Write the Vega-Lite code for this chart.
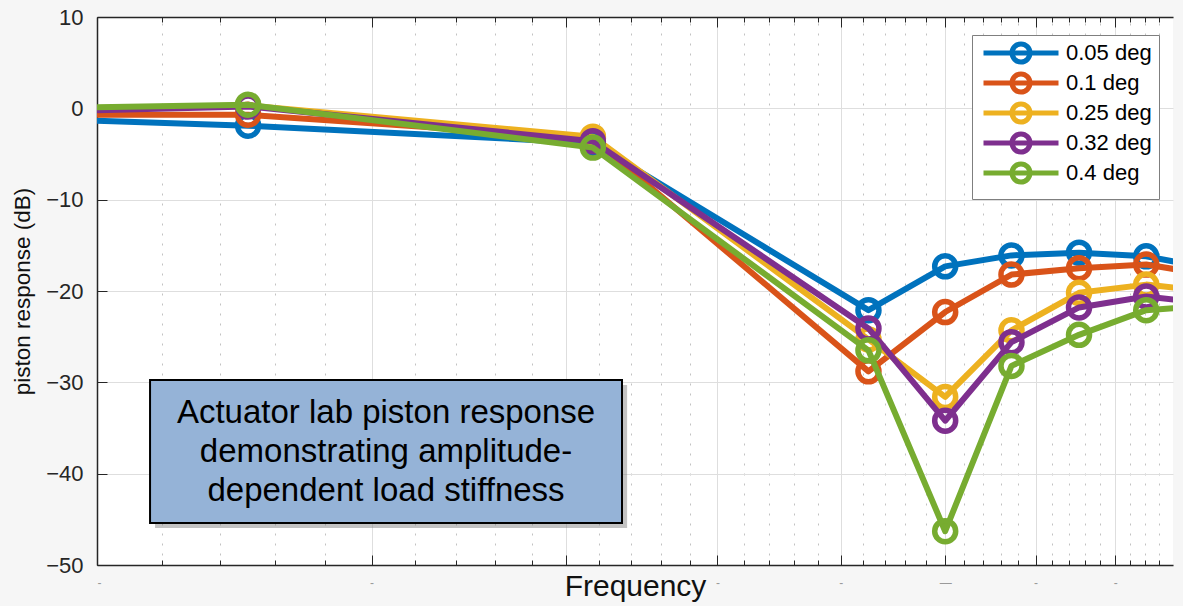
{
  "$schema": "https://vega.github.io/schema/vega-lite/v6.json",
  "width": 1076,
  "height": 548,
  "autosize": {"type": "none"},
  "padding": {"left": 97, "top": 17, "right": 10, "bottom": 41},
  "background": "#f6f6f6",
  "view": {"fill": "white", "stroke": null},
  "config": {"font": "Liberation Sans"},
  "datasets": {
    "resp": [
      {"s": "0.05 deg", "f": 1.8, "db": -1.1},
      {"s": "0.05 deg", "f": 2.5, "db": -1.9},
      {"s": "0.05 deg", "f": 4.16, "db": -3.8},
      {"s": "0.05 deg", "f": 6.25, "db": -22.1},
      {"s": "0.05 deg", "f": 7.0, "db": -17.3},
      {"s": "0.05 deg", "f": 7.72, "db": -16.1},
      {"s": "0.05 deg", "f": 8.53, "db": -15.8},
      {"s": "0.05 deg", "f": 9.42, "db": -16.2},
      {"s": "0.05 deg", "f": 10.4, "db": -17.6},
      {"s": "0.1 deg", "f": 1.8, "db": -0.7},
      {"s": "0.1 deg", "f": 2.5, "db": -0.7},
      {"s": "0.1 deg", "f": 4.16, "db": -3.3},
      {"s": "0.1 deg", "f": 6.25, "db": -28.8},
      {"s": "0.1 deg", "f": 7.0, "db": -22.3},
      {"s": "0.1 deg", "f": 7.72, "db": -18.2},
      {"s": "0.1 deg", "f": 8.53, "db": -17.5},
      {"s": "0.1 deg", "f": 9.42, "db": -17.1},
      {"s": "0.1 deg", "f": 10.4, "db": -18.3},
      {"s": "0.25 deg", "f": 1.8, "db": -0.1},
      {"s": "0.25 deg", "f": 2.5, "db": 0.3},
      {"s": "0.25 deg", "f": 4.16, "db": -3.1},
      {"s": "0.25 deg", "f": 6.25, "db": -25.3},
      {"s": "0.25 deg", "f": 7.0, "db": -31.6},
      {"s": "0.25 deg", "f": 7.72, "db": -24.3},
      {"s": "0.25 deg", "f": 8.53, "db": -20.2},
      {"s": "0.25 deg", "f": 9.42, "db": -19.3},
      {"s": "0.25 deg", "f": 10.4, "db": -20.1},
      {"s": "0.32 deg", "f": 1.8, "db": -0.4},
      {"s": "0.32 deg", "f": 2.5, "db": 0.2},
      {"s": "0.32 deg", "f": 4.16, "db": -3.6},
      {"s": "0.32 deg", "f": 6.25, "db": -24.1},
      {"s": "0.32 deg", "f": 7.0, "db": -34.2},
      {"s": "0.32 deg", "f": 7.72, "db": -25.6},
      {"s": "0.32 deg", "f": 8.53, "db": -21.8},
      {"s": "0.32 deg", "f": 9.42, "db": -20.6},
      {"s": "0.32 deg", "f": 10.4, "db": -21.4},
      {"s": "0.4 deg", "f": 1.8, "db": 0.0},
      {"s": "0.4 deg", "f": 2.5, "db": 0.4},
      {"s": "0.4 deg", "f": 4.16, "db": -4.3},
      {"s": "0.4 deg", "f": 6.25, "db": -26.5},
      {"s": "0.4 deg", "f": 7.0, "db": -46.3},
      {"s": "0.4 deg", "f": 7.72, "db": -28.2},
      {"s": "0.4 deg", "f": 8.53, "db": -24.8},
      {"s": "0.4 deg", "f": 9.42, "db": -22.1},
      {"s": "0.4 deg", "f": 10.4, "db": -21.6}
    ],
    "note": [
      {"label": "Actuator lab piston response\ndemonstrating amplitude-\ndependent load stiffness",
       "x1": 2.163, "x2": 4.343, "y1": -29.75, "y2": -45.41,
       "sx1": 2.179, "sx2": 4.376, "sy1": -30.3, "sy2": -45.96,
       "tx": 3.065, "ty": -33.4}
    ]
  },
  "data": {"name": "resp"},
  "layer": [
    {
      "mark": {"type": "point", "opacity": 0, "clip": true},
      "encoding": {
        "x": {"field": "f", "type": "quantitative",
          "scale": {"type": "log", "domain": [2, 9.8], "nice": false, "zero": false},
          "axis": {"orient": "bottom", "values": [2.2,2.4,2.6,2.8,3.2,3.4,3.6,3.8,4.2,4.4,4.6,4.8,5.2,5.4,5.6,5.8,6.2,6.4,6.6,6.8,7.2,7.4,7.6,7.8,8.2,8.4,8.6,8.8,9.2,9.4,9.6],
            "grid": true, "gridColor": "#c2c2c2", "gridDash": [2, 8], "gridWidth": 1,
            "ticks": true, "tickSize": -5, "tickColor": "#262626", "tickWidth": 1,
            "labels": false, "domain": false, "title": null}}
      }
    },
    {
      "mark": {"type": "point", "opacity": 0, "clip": true},
      "encoding": {
        "x": {"field": "f", "type": "quantitative",
          "scale": {"type": "log", "domain": [2, 9.8], "nice": false, "zero": false},
          "axis": {"orient": "top", "values": [2,3,4,5,6,7,8,9],
            "grid": false, "ticks": true, "tickSize": -10, "tickColor": "#262626", "tickWidth": 1,
            "labels": false, "domain": true, "domainColor": "#262626", "domainWidth": 1.5, "title": null}}
      }
    },
    {
      "mark": {"type": "point", "opacity": 0, "clip": true},
      "encoding": {
        "x": {"field": "f", "type": "quantitative",
          "scale": {"type": "log", "domain": [2, 9.8], "nice": false, "zero": false},
          "axis": {"orient": "top", "values": [2.2,2.4,2.6,2.8,3.2,3.4,3.6,3.8,4.2,4.4,4.6,4.8,5.2,5.4,5.6,5.8,6.2,6.4,6.6,6.8,7.2,7.4,7.6,7.8,8.2,8.4,8.6,8.8,9.2,9.4,9.6],
            "grid": false, "ticks": true, "tickSize": -5, "tickColor": "#262626", "tickWidth": 1,
            "labels": false, "domain": false, "title": null}}
      }
    },
    {
      "encoding": {
        "x": {"field": "f", "type": "quantitative",
          "scale": {"type": "log", "domain": [2, 9.8], "nice": false, "zero": false},
          "axis": {"orient": "bottom", "values": [2,3,4,5,6,7,8,9],
            "grid": true, "gridColor": "#dedede", "gridWidth": 1,
            "ticks": true, "tickSize": -10, "tickColor": "#262626", "tickWidth": 1,
            "domain": true, "domainColor": "#262626", "domainWidth": 1.5,
            "labelExpr": "datum.value == 4 ? '' : (datum.value == 7 ? '—' : '-')", "labelColor": "#9a9a9a", "labelFontSize": 12, "labelPadding": 22,
            "title": "Frequency", "titleFontSize": 30, "titleFontWeight": "normal", "titleColor": "#111111",
            "titleFont": "Liberation Sans", "titleY": 21, "titleBaseline": "middle"}},
        "y": {"field": "db", "type": "quantitative",
          "scale": {"domain": [-50, 10], "nice": false, "zero": false},
          "axis": {"values": [-50,-40,-30,-20,-10,0,10], "format": "d",
            "grid": true, "gridColor": "#dedede", "gridWidth": 1,
            "ticks": true, "tickSize": -10, "tickColor": "#262626", "tickWidth": 1,
            "domain": true, "domainColor": "#262626", "domainWidth": 1.5,
            "labelFontSize": 22, "labelColor": "#262626", "labelPadding": 24, "labelFont": "Liberation Sans",
            "title": "piston response (dB)", "titleFontSize": 22.5, "titleFontWeight": "normal", "titleColor": "#111111",
            "titleFont": "Liberation Sans", "titleX": -75, "titleY": 274, "titleAngle": -90, "titleAlign": "center", "titleBaseline": "middle"}},
        "color": {"field": "s", "type": "nominal",
          "scale": {"domain": ["0.05 deg", "0.1 deg", "0.25 deg", "0.32 deg", "0.4 deg"],
                    "range": ["#0072BD", "#D95319", "#EDB120", "#7E2F8E", "#77AC30"]},
          "legend": {"title": null, "orient": "none", "legendX": 875, "legendY": 18,
            "symbolType": "M-7.5,0L7.5,0M-1.8,0A1.8,1.8,0,1,1,1.8,0A1.8,1.8,0,1,1,-1.8,0",
            "symbolSize": 100, "symbolStrokeWidth": 5, "symbolFillColor": "transparent", "symbolOpacity": 1,
            "symbolOffset": 31, "labelOffset": 34,
            "labelFontSize": 22, "labelColor": "#000000", "labelFont": "Liberation Sans", "labelLimit": 300,
            "padding": 7, "rowPadding": -9, "strokeColor": "#7f7f7f", "fillColor": "white", "cornerRadius": 0,
            "encode": {"symbols": {"update": {"size": {"value": 100}}}}}}
      },
      "layer": [
        {"transform": [{"filter": "datum.s === '0.05 deg'"}], "layer": [
          {"mark": {"type": "line", "strokeWidth": 6, "strokeJoin": "round", "clip": true}},
          {"mark": {"type": "point", "shape": "circle", "filled": false, "size": 441, "strokeWidth": 5.5, "opacity": 1, "clip": true}}]},
        {"transform": [{"filter": "datum.s === '0.1 deg'"}], "layer": [
          {"mark": {"type": "line", "strokeWidth": 6, "strokeJoin": "round", "clip": true}},
          {"mark": {"type": "point", "shape": "circle", "filled": false, "size": 441, "strokeWidth": 5.5, "opacity": 1, "clip": true}}]},
        {"transform": [{"filter": "datum.s === '0.25 deg'"}], "layer": [
          {"mark": {"type": "line", "strokeWidth": 6, "strokeJoin": "round", "clip": true}},
          {"mark": {"type": "point", "shape": "circle", "filled": false, "size": 441, "strokeWidth": 5.5, "opacity": 1, "clip": true}}]},
        {"transform": [{"filter": "datum.s === '0.32 deg'"}], "layer": [
          {"mark": {"type": "line", "strokeWidth": 6, "strokeJoin": "round", "clip": true}},
          {"mark": {"type": "point", "shape": "circle", "filled": false, "size": 441, "strokeWidth": 5.5, "opacity": 1, "clip": true}}]},
        {"transform": [{"filter": "datum.s === '0.4 deg'"}], "layer": [
          {"mark": {"type": "line", "strokeWidth": 6, "strokeJoin": "round", "clip": true}},
          {"mark": {"type": "point", "shape": "circle", "filled": false, "size": 441, "strokeWidth": 5.5, "opacity": 1, "clip": true}}]}
      ]
    },
    {
      "data": {"name": "note"},
      "mark": {"type": "rect", "fill": "#7a7a7a", "opacity": 0.45},
      "encoding": {
        "x": {"field": "sx1", "type": "quantitative", "scale": {"type": "log", "domain": [2, 9.8], "nice": false, "zero": false}, "axis": null},
        "x2": {"field": "sx2"},
        "y": {"field": "sy1", "type": "quantitative", "scale": {"domain": [-50, 10], "nice": false, "zero": false}, "axis": null},
        "y2": {"field": "sy2"}
      }
    },
    {
      "data": {"name": "note"},
      "mark": {"type": "rect", "fill": "#95b3d7", "stroke": "#000000", "strokeWidth": 2},
      "encoding": {
        "x": {"field": "x1", "type": "quantitative", "scale": {"type": "log", "domain": [2, 9.8], "nice": false, "zero": false}, "axis": null},
        "x2": {"field": "x2"},
        "y": {"field": "y1", "type": "quantitative", "scale": {"domain": [-50, 10], "nice": false, "zero": false}, "axis": null},
        "y2": {"field": "y2"}
      }
    },
    {
      "data": {"name": "note"},
      "mark": {"type": "text", "font": "Liberation Sans", "fontSize": 33, "lineHeight": 39, "lineBreak": "\n", "align": "center", "baseline": "middle", "color": "#000000"},
      "encoding": {
        "x": {"field": "tx", "type": "quantitative", "scale": {"type": "log", "domain": [2, 9.8], "nice": false, "zero": false}, "axis": null},
        "y": {"field": "ty", "type": "quantitative", "scale": {"domain": [-50, 10], "nice": false, "zero": false}, "axis": null},
        "text": {"field": "label"}
      }
    }
  ],
  "resolve": {"axis": {"x": "independent", "y": "independent"}}
}
